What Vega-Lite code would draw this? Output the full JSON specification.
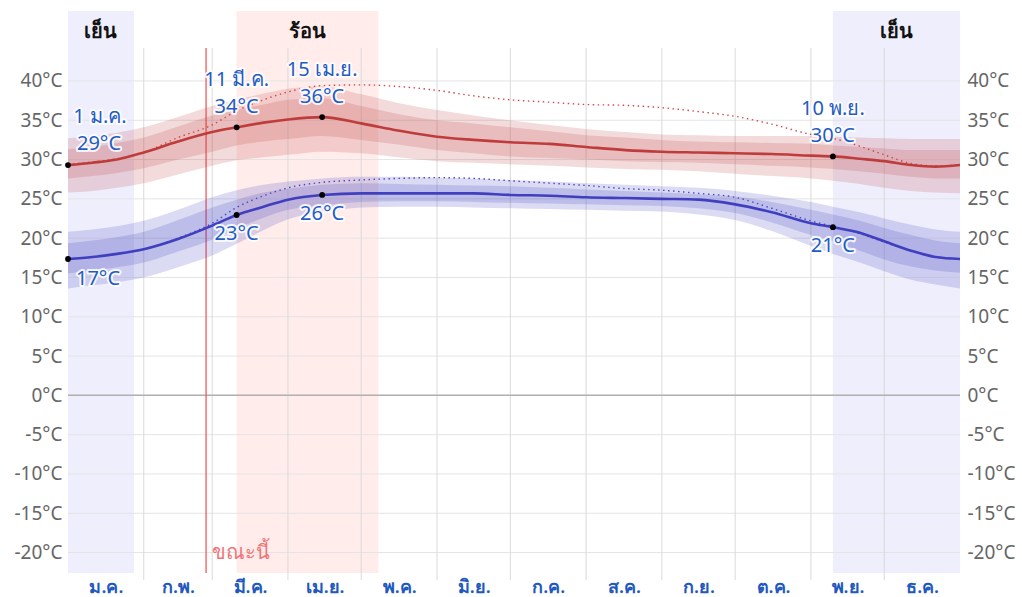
{
  "$schema": "https://vega.github.io/schema/vega-lite/v6.json",
  "width": 892,
  "height": 562,
  "autosize": {"type": "none"},
  "padding": {"left": 68, "right": 62, "top": 11, "bottom": 24},
  "background": "white",
  "config": {
    "view": {"stroke": null},
    "font": "Noto Sans",
    "axis": {"title": null, "domain": false, "ticks": false, "grid": false, "labelFontSize": 19},
    "axisY": {"labelColor": "#666"},
    "axisX": {"labelColor": "#1f59bd", "labelFontSize": 18, "labelFontWeight": 600, "labelFlush": false}
  },
  "datasets": {
    "seasons": [
      {"id": 1, "start": 0, "end": 27, "kind": "cold", "label": "เย็น"},
      {"id": 2, "start": 69, "end": 127, "kind": "hot", "label": "ร้อน"},
      {"id": 3, "start": 313, "end": 365, "kind": "cold", "label": "เย็น"}
    ],
    "yvals": [{"v": -20}, {"v": -15}, {"v": -10}, {"v": -5}, {"v": 0}, {"v": 5}, {"v": 10}, {"v": 15}, {"v": 20}, {"v": 25}, {"v": 30}, {"v": 35}, {"v": 40}],
    "months": [{"d": 31}, {"d": 59}, {"d": 90}, {"d": 120}, {"d": 151}, {"d": 181}, {"d": 212}, {"d": 243}, {"d": 273}, {"d": 304}, {"d": 334}],
    "clim": [
      {"day": 0, "hi10": 25.8, "hi25": 27.6, "hi": 29.3, "hi75": 31.3, "hi90": 32.7, "lo10": 13.6, "lo25": 15.5, "lo": 17.35, "lo75": 19.35, "lo90": 20.8, "hiFeel": 29.4, "loFeel": 17.35},
      {"day": 10, "hi10": 26.0, "hi25": 27.9, "hi": 29.6, "hi75": 31.6, "hi90": 33.0, "lo10": 14.0, "lo25": 15.9, "lo": 17.6, "lo75": 19.7, "lo90": 21.1, "hiFeel": 29.7, "loFeel": 17.6},
      {"day": 20, "hi10": 26.4, "hi25": 28.3, "hi": 30.0, "hi75": 32.1, "hi90": 33.4, "lo10": 14.4, "lo25": 16.3, "lo": 18.0, "lo75": 20.1, "lo90": 21.5, "hiFeel": 30.1, "loFeel": 18.0},
      {"day": 31, "hi10": 27.0, "hi25": 28.9, "hi": 30.9, "hi75": 32.8, "hi90": 34.1, "lo10": 15.0, "lo25": 16.9, "lo": 18.6, "lo75": 20.8, "lo90": 22.2, "hiFeel": 30.9, "loFeel": 18.6},
      {"day": 45, "hi10": 28.1, "hi25": 30.0, "hi": 32.3, "hi75": 34.2, "hi90": 35.4, "lo10": 16.3, "lo25": 18.3, "lo": 19.9, "lo75": 22.3, "lo90": 23.6, "hiFeel": 32.8, "loFeel": 20.0},
      {"day": 59, "hi10": 29.2, "hi25": 31.0, "hi": 33.5, "hi75": 35.6, "hi90": 36.8, "lo10": 17.8, "lo25": 19.8, "lo": 21.6, "lo75": 23.9, "lo90": 25.2, "hiFeel": 34.4, "loFeel": 21.9},
      {"day": 69, "hi10": 29.9, "hi25": 31.8, "hi": 34.1, "hi75": 36.3, "hi90": 37.6, "lo10": 19.3, "lo25": 21.2, "lo": 22.95, "lo75": 24.9, "lo90": 26.1, "hiFeel": 36.2, "loFeel": 23.9},
      {"day": 80, "hi10": 30.3, "hi25": 32.3, "hi": 34.7, "hi75": 37.0, "hi90": 38.4, "lo10": 21.0, "lo25": 22.6, "lo": 24.0, "lo75": 25.8, "lo90": 26.8, "hiFeel": 37.6, "loFeel": 25.4},
      {"day": 90, "hi10": 30.6, "hi25": 32.6, "hi": 35.1, "hi75": 37.6, "hi90": 39.0, "lo10": 22.4, "lo25": 23.6, "lo": 24.9, "lo75": 26.3, "lo90": 27.2, "hiFeel": 38.6, "loFeel": 26.4},
      {"day": 104, "hi10": 31.0, "hi25": 33.0, "hi": 35.4, "hi75": 37.8, "hi90": 39.3, "lo10": 23.3, "lo25": 24.2, "lo": 25.5, "lo75": 26.8, "lo90": 27.6, "hiFeel": 39.4, "loFeel": 27.1},
      {"day": 120, "hi10": 30.8, "hi25": 32.5, "hi": 34.6, "hi75": 36.8, "hi90": 38.3, "lo10": 23.9, "lo25": 24.6, "lo": 25.7, "lo75": 27.0, "lo90": 27.8, "hiFeel": 39.5, "loFeel": 27.4},
      {"day": 135, "hi10": 30.3, "hi25": 31.9, "hi": 33.7, "hi75": 35.8, "hi90": 37.2, "lo10": 24.0, "lo25": 24.7, "lo": 25.7, "lo75": 26.9, "lo90": 27.8, "hiFeel": 39.3, "loFeel": 27.6},
      {"day": 151, "hi10": 29.8, "hi25": 31.2, "hi": 32.9, "hi75": 35.0, "hi90": 36.3, "lo10": 24.0, "lo25": 24.7, "lo": 25.7, "lo75": 26.8, "lo90": 27.7, "hiFeel": 38.8, "loFeel": 27.7},
      {"day": 166, "hi10": 29.6, "hi25": 30.8, "hi": 32.5, "hi75": 34.6, "hi90": 35.6, "lo10": 23.9, "lo25": 24.6, "lo": 25.7, "lo75": 26.7, "lo90": 27.6, "hiFeel": 38.1, "loFeel": 27.6},
      {"day": 181, "hi10": 29.4, "hi25": 30.4, "hi": 32.2, "hi75": 34.1, "hi90": 35.0, "lo10": 23.8, "lo25": 24.5, "lo": 25.5, "lo75": 26.6, "lo90": 27.4, "hiFeel": 37.6, "loFeel": 27.3},
      {"day": 197, "hi10": 29.2, "hi25": 30.2, "hi": 32.0, "hi75": 33.6, "hi90": 34.4, "lo10": 23.7, "lo25": 24.4, "lo": 25.4, "lo75": 26.4, "lo90": 27.2, "hiFeel": 37.3, "loFeel": 27.0},
      {"day": 212, "hi10": 29.0, "hi25": 30.0, "hi": 31.6, "hi75": 33.1, "hi90": 33.9, "lo10": 23.6, "lo25": 24.3, "lo": 25.2, "lo75": 26.2, "lo90": 27.0, "hiFeel": 37.0, "loFeel": 26.7},
      {"day": 228, "hi10": 28.8, "hi25": 29.8, "hi": 31.2, "hi75": 32.8, "hi90": 33.5, "lo10": 23.5, "lo25": 24.2, "lo": 25.1, "lo75": 26.0, "lo90": 26.8, "hiFeel": 36.9, "loFeel": 26.3},
      {"day": 243, "hi10": 28.7, "hi25": 29.7, "hi": 31.0, "hi75": 32.5, "hi90": 33.2, "lo10": 23.4, "lo25": 24.1, "lo": 25.0, "lo75": 25.8, "lo90": 26.6, "hiFeel": 36.6, "loFeel": 26.1},
      {"day": 258, "hi10": 28.5, "hi25": 29.6, "hi": 30.9, "hi75": 32.3, "hi90": 33.1, "lo10": 23.0, "lo25": 23.8, "lo": 24.9, "lo75": 25.6, "lo90": 26.4, "hiFeel": 36.1, "loFeel": 25.7},
      {"day": 273, "hi10": 28.2, "hi25": 29.4, "hi": 30.8, "hi75": 32.2, "hi90": 33.0, "lo10": 22.3, "lo25": 23.2, "lo": 24.3, "lo75": 25.3, "lo90": 26.0, "hiFeel": 35.5, "loFeel": 25.2},
      {"day": 288, "hi10": 27.9, "hi25": 29.2, "hi": 30.7, "hi75": 32.1, "hi90": 33.0, "lo10": 20.9, "lo25": 22.0, "lo": 23.3, "lo75": 24.6, "lo90": 25.4, "hiFeel": 34.5, "loFeel": 23.8},
      {"day": 304, "hi10": 27.6, "hi25": 29.0, "hi": 30.5, "hi75": 32.0, "hi90": 33.0, "lo10": 19.0, "lo25": 20.4, "lo": 21.9, "lo75": 23.6, "lo90": 24.6, "hiFeel": 33.2, "loFeel": 22.2},
      {"day": 313, "hi10": 27.3, "hi25": 28.8, "hi": 30.4, "hi75": 31.8, "hi90": 32.9, "lo10": 18.0, "lo25": 19.6, "lo": 21.4, "lo75": 23.0, "lo90": 24.0, "hiFeel": 32.7, "loFeel": 21.5},
      {"day": 324, "hi10": 26.9, "hi25": 28.5, "hi": 30.1, "hi75": 31.6, "hi90": 32.8, "lo10": 16.9, "lo25": 18.4, "lo": 20.7, "lo75": 22.2, "lo90": 23.3, "hiFeel": 31.7, "loFeel": 20.6},
      {"day": 334, "hi10": 26.4, "hi25": 28.2, "hi": 29.8, "hi75": 31.4, "hi90": 32.7, "lo10": 15.8, "lo25": 17.3, "lo": 19.6, "lo75": 21.3, "lo90": 22.5, "hiFeel": 30.6, "loFeel": 19.5},
      {"day": 345, "hi10": 26.0, "hi25": 27.8, "hi": 29.3, "hi75": 31.2, "hi90": 32.6, "lo10": 14.7, "lo25": 16.4, "lo": 18.4, "lo75": 20.4, "lo90": 21.7, "hiFeel": 29.5, "loFeel": 18.4},
      {"day": 355, "hi10": 25.8, "hi25": 27.6, "hi": 29.1, "hi75": 31.2, "hi90": 32.6, "lo10": 14.1, "lo25": 15.9, "lo": 17.6, "lo75": 19.7, "lo90": 21.1, "hiFeel": 29.2, "loFeel": 17.6},
      {"day": 365, "hi10": 25.7, "hi25": 27.6, "hi": 29.3, "hi75": 31.2, "hi90": 32.6, "lo10": 13.6, "lo25": 15.6, "lo": 17.35, "lo75": 19.35, "lo90": 20.8, "hiFeel": 29.3, "loFeel": 17.35}
    ],
    "pts": [
      {"day": 0, "t": 29.3, "date": "1 ม.ค.", "tl": "29°C", "k": "hi"},
      {"day": 69, "t": 34.1, "date": "11 มี.ค.", "tl": "34°C", "k": "hi"},
      {"day": 104, "t": 35.4, "date": "15 เม.ย.", "tl": "36°C", "k": "hi"},
      {"day": 313, "t": 30.4, "date": "10 พ.ย.", "tl": "30°C", "k": "hi"},
      {"day": 0, "t": 17.35, "date": "", "tl": "17°C", "k": "lo"},
      {"day": 69, "t": 22.95, "date": "", "tl": "23°C", "k": "lo"},
      {"day": 104, "t": 25.5, "date": "", "tl": "26°C", "k": "lo"},
      {"day": 313, "t": 21.4, "date": "", "tl": "21°C", "k": "lo"}
    ],
    "now": [{"d": 56.5, "label": "ขณะนี้"}]
  },
  "layer": [
    {
      "layer": [
        {
          "data": {"name": "seasons"},
          "mark": {"type": "rect"},
          "encoding": {
            "x": {"field": "start", "type": "quantitative", "scale": {"domain": [0, 365], "nice": false, "zero": false},
              "axis": {"orient": "bottom", "values": [15.5, 45, 74.5, 105, 135.5, 166, 196.5, 227.5, 258, 288.5, 319, 349.5],
                "labelExpr": "['ม.ค.','ก.พ.','มี.ค.','เม.ย.','พ.ค.','มิ.ย.','ก.ค.','ส.ค.','ก.ย.','ต.ค.','พ.ย.','ธ.ค.'][floor(datum.value/30.42)]",
                "labelPadding": 5}},
            "x2": {"field": "end"},
            "color": {"field": "kind", "type": "nominal", "scale": {"domain": ["cold", "hot"], "range": ["#eeeefd", "#ffeceb"]}, "legend": null}
          }
        },
        {
          "data": {"name": "seasons"},
          "transform": [
            {"fold": ["start", "end"], "as": ["edge", "dd"]},
            {"aggregate": [{"op": "mean", "field": "dd", "as": "mid"}], "groupby": ["id", "label"]}
          ],
          "mark": {"type": "text", "fontSize": 20, "color": "#111", "fontWeight": 600},
          "encoding": {
            "x": {"field": "mid", "type": "quantitative"},
            "y": {"datum": 46.2},
            "text": {"field": "label"}
          }
        },
        {
          "data": {"name": "yvals"},
          "mark": {"type": "rule", "color": "#e4e4e4", "strokeWidth": 1},
          "encoding": {
            "y": {"field": "v", "type": "quantitative", "scale": {"domain": [-22.6, 48.9], "nice": false, "zero": false},
              "axis": {"orient": "left", "labelPadding": 6, "values": [-20, -15, -10, -5, 0, 5, 10, 15, 20, 25, 30, 35, 40], "labelExpr": "datum.value + '°C'"}}
          }
        },
        {
          "data": {"name": "months"},
          "mark": {"type": "rule", "color": "#dadada", "strokeWidth": 1, "clip": false},
          "encoding": {
            "x": {"field": "d", "type": "quantitative"},
            "y": {"datum": 44.2},
            "y2": {"datum": -23.5}
          }
        },
        {
          "data": {"values": [{"v": 0}]},
          "mark": {"type": "rule", "color": "#b0b0b0", "strokeWidth": 1.5},
          "encoding": {"y": {"field": "v", "type": "quantitative"}}
        },
        {
          "data": {"name": "now"},
          "mark": {"type": "rule", "color": "#f25a5a", "strokeWidth": 1.3},
          "encoding": {
            "x": {"field": "d", "type": "quantitative"},
            "y": {"datum": 44.2},
            "y2": {"datum": -22.6}
          }
        },
        {
          "data": {"name": "now"},
          "mark": {"type": "text", "color": "#f07474", "fontSize": 20, "align": "left", "dx": 6},
          "encoding": {
            "x": {"field": "d", "type": "quantitative"},
            "y": {"datum": -20},
            "text": {"field": "label"}
          }
        },
        {
          "data": {"name": "clim"},
          "mark": {"type": "area", "color": "#c04040", "opacity": 0.19, "interpolate": "monotone"},
          "encoding": {"x": {"field": "day", "type": "quantitative"}, "y": {"field": "hi10", "type": "quantitative"}, "y2": {"field": "hi90"}}
        },
        {
          "data": {"name": "clim"},
          "mark": {"type": "area", "color": "#c04040", "opacity": 0.19, "interpolate": "monotone"},
          "encoding": {"x": {"field": "day", "type": "quantitative"}, "y": {"field": "hi25", "type": "quantitative"}, "y2": {"field": "hi75"}}
        },
        {
          "data": {"name": "clim"},
          "mark": {"type": "area", "color": "#4040c0", "opacity": 0.19, "interpolate": "monotone"},
          "encoding": {"x": {"field": "day", "type": "quantitative"}, "y": {"field": "lo10", "type": "quantitative"}, "y2": {"field": "lo90"}}
        },
        {
          "data": {"name": "clim"},
          "mark": {"type": "area", "color": "#4040c0", "opacity": 0.19, "interpolate": "monotone"},
          "encoding": {"x": {"field": "day", "type": "quantitative"}, "y": {"field": "lo25", "type": "quantitative"}, "y2": {"field": "lo75"}}
        },
        {
          "data": {"name": "clim"},
          "mark": {"type": "line", "color": "#d24a4a", "strokeWidth": 1.4, "strokeDash": [1.5, 3.5], "interpolate": "monotone"},
          "encoding": {"x": {"field": "day", "type": "quantitative"}, "y": {"field": "hiFeel", "type": "quantitative"}}
        },
        {
          "data": {"name": "clim"},
          "mark": {"type": "line", "color": "#4a4ac8", "strokeWidth": 1.4, "strokeDash": [1.5, 3.5], "interpolate": "monotone"},
          "encoding": {"x": {"field": "day", "type": "quantitative"}, "y": {"field": "loFeel", "type": "quantitative"}}
        },
        {
          "data": {"name": "clim"},
          "mark": {"type": "line", "color": "#bf3c3c", "strokeWidth": 2.6, "interpolate": "monotone"},
          "encoding": {"x": {"field": "day", "type": "quantitative"}, "y": {"field": "hi", "type": "quantitative"}}
        },
        {
          "data": {"name": "clim"},
          "mark": {"type": "line", "color": "#3f3fbf", "strokeWidth": 2.6, "interpolate": "monotone"},
          "encoding": {"x": {"field": "day", "type": "quantitative"}, "y": {"field": "lo", "type": "quantitative"}}
        },
        {
          "data": {"name": "pts"},
          "mark": {"type": "circle", "color": "black", "opacity": 1, "size": 34},
          "encoding": {"x": {"field": "day", "type": "quantitative"}, "y": {"field": "t", "type": "quantitative"}}
        },
        {
          "data": {"name": "pts"},
          "transform": [{"filter": "datum.k == 'hi' && datum.day > 0"}],
          "encoding": {"x": {"field": "day", "type": "quantitative"}, "y": {"field": "t", "type": "quantitative"}},
          "layer": [
            {"mark": {"type": "text", "fontSize": 20, "dy": -20, "stroke": "white", "strokeWidth": 4, "strokeOpacity": 0.85, "fill": "white", "strokeJoin": "round"}, "encoding": {"text": {"field": "tl"}}},
            {"mark": {"type": "text", "fontSize": 20, "dy": -20, "color": "#1f5cc4"}, "encoding": {"text": {"field": "tl"}}},
            {"mark": {"type": "text", "fontSize": 20, "dy": -47, "stroke": "white", "strokeWidth": 4, "strokeOpacity": 0.85, "fill": "white", "strokeJoin": "round"}, "encoding": {"text": {"field": "date"}}},
            {"mark": {"type": "text", "fontSize": 20, "dy": -47, "color": "#1f5cc4"}, "encoding": {"text": {"field": "date"}}}
          ]
        },
        {
          "data": {"name": "pts"},
          "transform": [{"filter": "datum.k == 'hi' && datum.day == 0"}],
          "encoding": {"x": {"field": "day", "type": "quantitative"}, "y": {"field": "t", "type": "quantitative"}},
          "layer": [
            {"mark": {"type": "text", "fontSize": 20, "dx": 31, "dy": -21, "stroke": "white", "strokeWidth": 4, "strokeOpacity": 0.85, "fill": "white", "strokeJoin": "round"}, "encoding": {"text": {"field": "tl"}}},
            {"mark": {"type": "text", "fontSize": 20, "dx": 31, "dy": -21, "color": "#1f5cc4"}, "encoding": {"text": {"field": "tl"}}},
            {"mark": {"type": "text", "fontSize": 20, "dx": 32, "dy": -48, "stroke": "white", "strokeWidth": 4, "strokeOpacity": 0.85, "fill": "white", "strokeJoin": "round"}, "encoding": {"text": {"field": "date"}}},
            {"mark": {"type": "text", "fontSize": 20, "dx": 32, "dy": -48, "color": "#1f5cc4"}, "encoding": {"text": {"field": "date"}}}
          ]
        },
        {
          "data": {"name": "pts"},
          "transform": [{"filter": "datum.k == 'lo' && datum.day > 0"}],
          "encoding": {"x": {"field": "day", "type": "quantitative"}, "y": {"field": "t", "type": "quantitative"}},
          "layer": [
            {"mark": {"type": "text", "fontSize": 20, "dy": 19, "stroke": "white", "strokeWidth": 4, "strokeOpacity": 0.85, "fill": "white", "strokeJoin": "round"}, "encoding": {"text": {"field": "tl"}}},
            {"mark": {"type": "text", "fontSize": 20, "dy": 19, "color": "#1f5cc4"}, "encoding": {"text": {"field": "tl"}}}
          ]
        },
        {
          "data": {"name": "pts"},
          "transform": [{"filter": "datum.k == 'lo' && datum.day == 0"}],
          "encoding": {"x": {"field": "day", "type": "quantitative"}, "y": {"field": "t", "type": "quantitative"}},
          "layer": [
            {"mark": {"type": "text", "fontSize": 20, "dx": 30, "dy": 20, "stroke": "white", "strokeWidth": 4, "strokeOpacity": 0.85, "fill": "white", "strokeJoin": "round"}, "encoding": {"text": {"field": "tl"}}},
            {"mark": {"type": "text", "fontSize": 20, "dx": 30, "dy": 20, "color": "#1f5cc4"}, "encoding": {"text": {"field": "tl"}}}
          ]
        }
      ]
    },
    {
      "data": {"name": "yvals"},
      "mark": {"type": "rule", "opacity": 0},
      "encoding": {
        "y": {"field": "v", "type": "quantitative", "scale": {"domain": [-22.6, 48.9], "nice": false, "zero": false},
          "axis": {"orient": "right", "labelPadding": 7, "values": [-20, -15, -10, -5, 0, 5, 10, 15, 20, 25, 30, 35, 40], "labelExpr": "datum.value + '°C'"}}
      }
    }
  ],
  "resolve": {"scale": {"y": "independent"}}
}
